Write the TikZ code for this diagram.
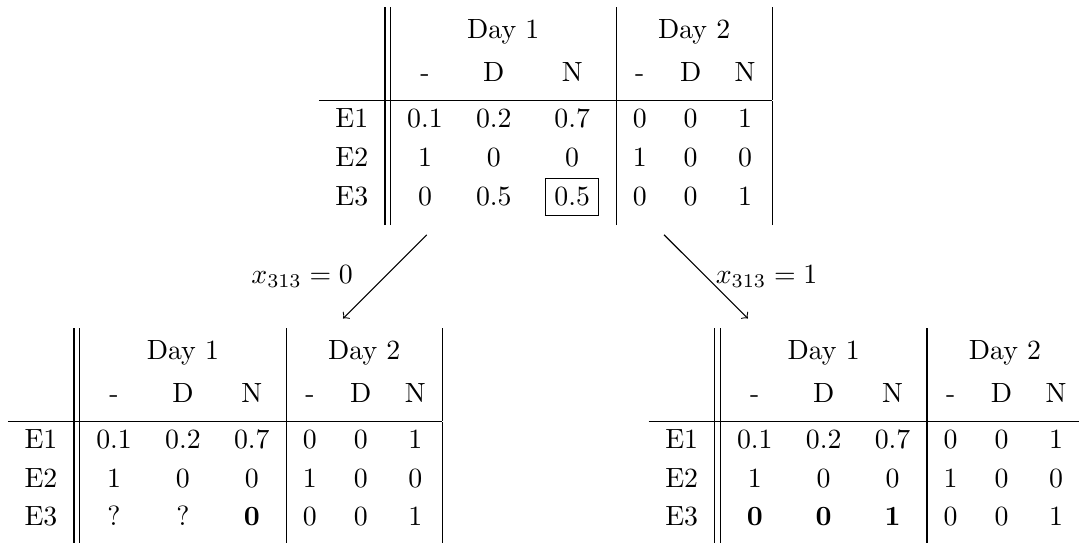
\documentclass[tikz,border=0pt]{standalone}

\renewcommand{\arraystretch}{1.15}
\newcommand{\rostertable}[1]{%
  \begin{tabular}{c||ccc|ccc|}
    \rule{0pt}{11.2pt} & \multicolumn{3}{c|}{Day 1} & \multicolumn{3}{c|}{Day 2} \\[1.8pt]
    & - & D & N & - & D & N \\[2.3pt]
    \hline
    E1 & 0.1 & 0.2 & 0.7 & 0 & 0 & 1 \\
    E2 & 1 & 0 & 0 & 1 & 0 & 0 \\
    E3 & #1 & 0 & 0 & 1\rule[-7pt]{0pt}{7pt}
  \end{tabular}}

\begin{document}
\begin{tikzpicture}
[tableDecorate/.style={inner sep=3.33pt},%
  lineDecorate/.style={->},%
  zeroLabel/.style={left=8pt},%
  oneLabel/.style={right}]
\useasboundingbox (-196.2pt,-153.2pt) rectangle (191.9pt,41.8pt);
%% tables
\node (relax) at (0,0) [tableDecorate] {\rostertable{0 & 0.5 & \fbox{0.5}}};
\node (fixzero) at (-4.05,-4.05) [tableDecorate] {\rostertable{? & ? & \textbf{0}}};
\node (fixone) at (4.05,-4.05) [tableDecorate]
  {\rostertable{\textbf{0} & \textbf{0} & \textbf{1}}};
%% branches
\path
\foreach \startnode/\endnode/\labelstyle/\value in {
  relax/fixzero/zeroLabel/0, relax/fixone/oneLabel/1}
{
  (\startnode) edge[lineDecorate] node[\labelstyle] {$x_{313} = \value$} (\endnode)
};
\end{tikzpicture}
\end{document}
